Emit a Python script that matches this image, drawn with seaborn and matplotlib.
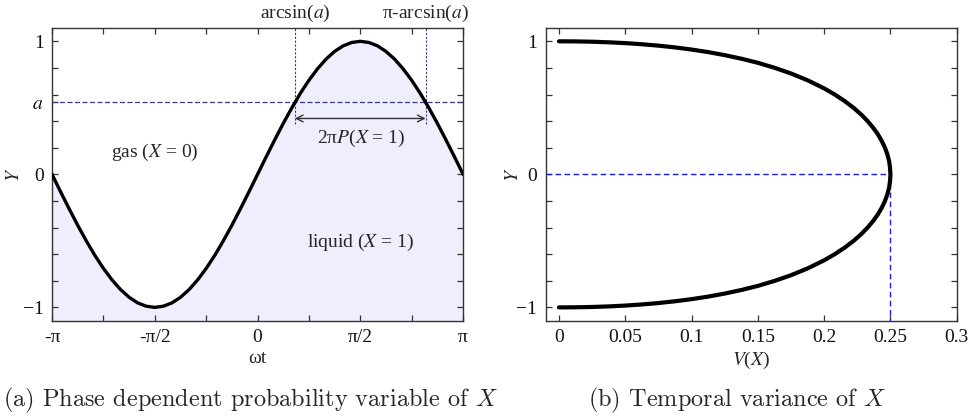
import numpy as np
import matplotlib
matplotlib.use("Agg")
import matplotlib.pyplot as plt
from matplotlib.ticker import MultipleLocator, FixedLocator
import seaborn as sns

# (a) phase dependent Y against wt, read every 7.5 degrees
omega_t = [-3.142, -3.011, -2.880, -2.749, -2.618, -2.487, -2.356, -2.225, -2.094,
           -1.963, -1.833, -1.702, -1.571, -1.440, -1.309, -1.178, -1.047, -0.916,
           -0.785, -0.654, -0.524, -0.393, -0.262, -0.131, 0.0, 0.131, 0.262, 0.393,
           0.524, 0.654, 0.785, 0.916, 1.047, 1.178, 1.309, 1.440, 1.571, 1.702,
           1.833, 1.963, 2.094, 2.225, 2.356, 2.487, 2.618, 2.749, 2.880, 3.011, 3.142]
y_phase = [0.0, -0.131, -0.259, -0.383, -0.5, -0.609, -0.707, -0.793, -0.866,
           -0.924, -0.966, -0.991, -1.0, -0.991, -0.966, -0.924, -0.866, -0.793,
           -0.707, -0.609, -0.5, -0.383, -0.259, -0.131, 0.0, 0.131, 0.259, 0.383,
           0.5, 0.609, 0.707, 0.793, 0.866, 0.924, 0.966, 0.991, 1.0, 0.991,
           0.966, 0.924, 0.866, 0.793, 0.707, 0.609, 0.5, 0.383, 0.259, 0.131, 0.0]
a_level = 0.54
arcsin_a = 0.57
pi_minus_arcsin_a = 2.57
arrow_y = 0.42
x_tick_labels = ["-π", "-π/2", "0", "π/2", "π"]

# (b) temporal variance V(X) against Y
v_var = [0.0, 0.0125, 0.025, 0.0375, 0.05, 0.0625, 0.075, 0.0875, 0.1, 0.1125,
         0.125, 0.1375, 0.15, 0.1625, 0.175, 0.1875, 0.2, 0.208, 0.2156, 0.2222,
         0.2279, 0.2328, 0.237, 0.2406, 0.2435, 0.2459, 0.2477, 0.249, 0.2497, 0.25,
         0.2497, 0.249, 0.2477, 0.2459, 0.2435, 0.2406, 0.237, 0.2328, 0.2279, 0.2222,
         0.2156, 0.208, 0.2, 0.1875, 0.175, 0.1625, 0.15, 0.1375, 0.125, 0.1125,
         0.1, 0.0875, 0.075, 0.0625, 0.05, 0.0375, 0.025, 0.0125, 0.0]
y_var = [1.0, 0.9992, 0.9968, 0.9925, 0.9863, 0.9779, 0.9673, 0.954, 0.938, 0.9188,
         0.896, 0.8693, 0.8384, 0.8012, 0.7581, 0.7071, 0.6461, 0.6, 0.55, 0.5,
         0.45, 0.4, 0.35, 0.3, 0.25, 0.2, 0.15, 0.1, 0.05, 0.0,
         -0.05, -0.1, -0.15, -0.2, -0.25, -0.3, -0.35, -0.4, -0.45, -0.5,
         -0.55, -0.6, -0.6461, -0.7071, -0.7581, -0.8012, -0.8384, -0.8693, -0.896, -0.9188,
         -0.938, -0.954, -0.9673, -0.9779, -0.9863, -0.9925, -0.9968, -0.9992, -1.0]
v_peak = 0.25
v_tick_labels = ["0", "0.05", "0.1", "0.15", "0.2", "0.25", "0.3"]

sns.set_theme(style="ticks")
plt.rcParams["font.family"] = ["Liberation Serif", "DejaVu Serif"]
plt.rcParams["mathtext.fontset"] = "stix"

fs = 14
fig = plt.figure(figsize=(9.71, 4.19), dpi=100)
ax1 = fig.add_axes([0.0536, 0.2346, 0.4233, 0.6986])
ax2 = fig.add_axes([0.562, 0.2346, 0.4233, 0.6986])


def style_axes(ax):
    for s in ax.spines.values():
        s.set_color("#333333")
        s.set_linewidth(1.0)
    ax.tick_params(which="both", direction="in", top=True, right=True,
                   length=4, width=0.9, color="#333333", labelsize=fs,
                   labelcolor="#111111", pad=6)


# panel (a)
ax1.fill_between(omega_t, -1.1, y_phase, color="#eeeefc", lw=0, zorder=0)
sns.lineplot(x=omega_t, y=y_phase, ax=ax1, color="black", lw=2.4, sort=False,
             estimator=None, zorder=3)
ax1.axhline(a_level, color="#3a3a8c", lw=0.9, ls=(0, (4, 2)), zorder=2)
for xv in [arcsin_a, pi_minus_arcsin_a]:
    ax1.plot([xv, xv], [0.38, 1.1], color="#3a3a8c", lw=0.8, ls=(0, (2, 1.5)), zorder=2)
ax1.annotate("", xy=(arcsin_a, arrow_y), xytext=(pi_minus_arcsin_a, arrow_y),
             arrowprops=dict(arrowstyle="<->", color="#333333", lw=1.0,
                             shrinkA=0, shrinkB=0))
ax1.text(arcsin_a, 1.051, r"arcsin($a$)", transform=ax1.get_xaxis_transform(),
         ha="center", va="center", fontsize=fs)
ax1.text(pi_minus_arcsin_a, 1.051, r"π-arcsin($a$)", transform=ax1.get_xaxis_transform(),
         ha="center", va="center", fontsize=fs)
ax1.text(1.58, 0.27, r"2π$P$($X$ = 1)", ha="center", va="center", fontsize=fs)
ax1.text(-1.57, 0.165, r"gas ($X$ = 0)", ha="center", va="center", fontsize=fs)
ax1.text(1.58, -0.51, r"liquid ($X$ = 1)", ha="center", va="center", fontsize=fs)

ax1.set_xlim(-np.pi, np.pi)
ax1.set_ylim(-1.1, 1.1)
ax1.xaxis.set_major_locator(FixedLocator([-np.pi, -np.pi / 2, 0, np.pi / 2, np.pi]))
ax1.xaxis.set_minor_locator(MultipleLocator(np.pi / 4))
ax1.set_xticklabels(x_tick_labels)
ax1.yaxis.set_major_locator(FixedLocator([-1, 0, a_level, 1]))
ax1.set_yticklabels(["\u22121", "0", "$a$", "1"])
ax1.yaxis.set_minor_locator(MultipleLocator(0.2))
style_axes(ax1)
ax1.set_xlabel("ωt", fontsize=fs, labelpad=3)
ax1.set_ylabel("$Y$", fontsize=fs)
ax1.yaxis.set_label_coords(-0.071, 0.5)

# panel (b)
sns.lineplot(x=v_var, y=y_var, ax=ax2, color="black", lw=3.0, sort=False,
             estimator=None, zorder=3)
ax2.plot([-0.01, v_peak], [0, 0], color="#1a1aff", lw=1.0, ls=(0, (4, 2.5)), zorder=2)
ax2.plot([v_peak, v_peak], [0, -1.1], color="#1a1aff", lw=1.0, ls=(0, (4, 2.5)), zorder=2)
ax2.set_xlim(-0.01, 0.3)
ax2.set_ylim(-1.1, 1.1)
ax2.set_xticks([0, 0.05, 0.1, 0.15, 0.2, 0.25, 0.3])
ax2.set_xticklabels(v_tick_labels)
ax2.set_yticks([-1, 0, 1])
ax2.set_yticklabels(["\u22121", "0", "1"])
ax2.yaxis.set_minor_locator(MultipleLocator(0.2))
style_axes(ax2)
ax2.set_xlabel("$V$($X$)", fontsize=fs, labelpad=3)
ax2.set_ylabel("$Y$", fontsize=fs)
ax2.yaxis.set_label_coords(-0.057, 0.5)

fig.text(0.003, 0.045, r"(a) Phase dependent probability variable of $X$", family="cmr10",
         math_fontfamily="cm", fontsize=17.5, ha="left", va="center")
fig.text(0.6055, 0.045, r"(b) Temporal variance of $X$", family="cmr10",
         math_fontfamily="cm", fontsize=17.5, ha="left", va="center")

fig.savefig("out.png", dpi=100)
